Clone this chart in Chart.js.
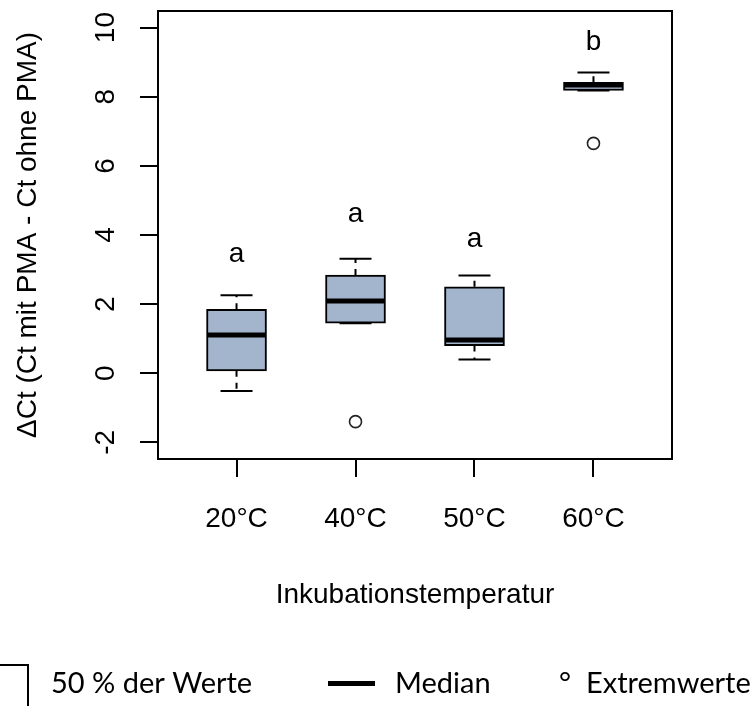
<!DOCTYPE html>
<html>
<head>
<meta charset="utf-8">
<script src="https://cdn.jsdelivr.net/npm/chart.js@4"></script>
<style>
html, body { margin: 0; padding: 0; background: #fff; }
</style>
</head>
<body>
<canvas id="myChart" width="756" height="706"></canvas>
<script>
// box statistics
var categories = ['20°C', '40°C', '50°C', '60°C'];
var whiskerLow = [-0.51, 1.45, 0.40, 8.18];
var q1 = [0.07, 1.45, 0.80, 8.18];
var medians = [1.11, 2.09, 0.96, 8.34];
var q3 = [1.85, 2.84, 2.50, 8.42];
var whiskerHigh = [2.26, 3.31, 2.83, 8.70];
var outliers = [[], [-1.40], [], [6.65]];
var letters = ['a', 'a', 'a', 'b'];
var letterY = [3.22, 4.39, 3.66, 9.35];
var yTicks = [-2, 0, 2, 4, 6, 8, 10];

var boxFill = '#a2b5cd';
var axisFont = { family: '"Liberation Sans", Arial, sans-serif', size: 28 };

// build dataset points
var whiskerPts = [], boxPts = [], medianPts = [], capPts = [], outlierPts = [];
categories.forEach(function (c, i) {
    var x = i + 1;
    whiskerPts.push({ x: x, y: q3[i] }, { x: x, y: whiskerHigh[i] }, { x: x, y: null });
    whiskerPts.push({ x: x, y: q1[i] }, { x: x, y: whiskerLow[i] }, { x: x, y: null });
    boxPts.push({ x: x, y: [q1[i], q3[i]] });
    medianPts.push({ x: x, y: medians[i] });
    capPts.push({ x: x, y: whiskerHigh[i] }, { x: x, y: whiskerLow[i] });
    outliers[i].forEach(function (v) { outlierPts.push({ x: x, y: v }); });
});

// frame, letters and the legend underneath
var extras = {
    id: 'extras',
    afterDatasetsDraw: function (chart) {
        var ctx = chart.ctx, a = chart.chartArea;
        var xs = chart.scales.x, ys = chart.scales.y;
        ctx.save();
        ctx.strokeStyle = '#000';
        ctx.lineWidth = 2;
        ctx.strokeRect(a.left, a.top, a.right - a.left, a.bottom - a.top);

        ctx.fillStyle = '#000';
        ctx.font = '28px "Liberation Sans", Arial, sans-serif';
        ctx.textAlign = 'center';
        ctx.textBaseline = 'alphabetic';
        letters.forEach(function (l, i) {
            ctx.fillText(l, xs.getPixelForValue(i + 1), ys.getPixelForValue(letterY[i]));
        });

        // legend
        ctx.textAlign = 'left';
        ctx.font = '29px Lato, "Open Sans", sans-serif';
        ctx.strokeRect(-2, 665, 30, 60);
        ctx.fillText('50 % der Werte', 51, 693);
        ctx.fillRect(328, 681, 47, 5);
        ctx.fillText('Median', 395, 693);
        ctx.fillText('°', 559, 693);
        ctx.fillText('Extremwerte', 586, 693);
        ctx.restore();
    }
};

function noPad(s) {
    s.paddingTop = 0;
    s.paddingBottom = 0;
    s.paddingLeft = 0;
    s.paddingRight = 0;
}

var ctx = document.getElementById('myChart').getContext('2d');
var chart = new Chart(ctx, {
    type: 'scatter',
    data: {
        datasets: [{
            type: 'line',
            data: whiskerPts,
            borderColor: '#000',
            borderWidth: 2,
            borderDash: [6, 6],
            pointRadius: 0,
            spanGaps: false,
            order: 5
        }, {
            type: 'bar',
            data: boxPts,
            backgroundColor: boxFill,
            borderColor: '#000',
            borderWidth: 2,
            borderSkipped: false,
            barThickness: 60,
            order: 4
        }, {
            data: medianPts,
            pointStyle: 'line',
            pointRadius: 29,
            pointBorderWidth: 5,
            pointBorderColor: '#000',
            order: 2
        }, {
            data: capPts,
            pointStyle: 'line',
            pointRadius: 16,
            pointBorderWidth: 2,
            pointBorderColor: '#000',
            order: 1
        }, {
            data: outlierPts,
            pointStyle: 'circle',
            pointRadius: 6,
            pointBorderWidth: 1.6,
            pointBorderColor: '#222',
            pointBackgroundColor: 'rgba(255,255,255,0)',
            order: 0
        }]
    },
    options: {
        responsive: false,
        animation: false,
        devicePixelRatio: 1,
        layout: { autoPadding: false, padding: { top: 11, right: 84, left: 0, bottom: 0 } },
        plugins: { legend: { display: false }, tooltip: { enabled: false } },
        scales: {
            x: {
                type: 'linear',
                min: 0.34,
                max: 4.66,
                offset: false,
                afterBuildTicks: function (s) {
                    s.ticks = categories.map(function (c, i) { return { value: i + 1 }; });
                },
                afterFit: function (s) { s.height = 247; noPad(s); },
                ticks: {
                    callback: function (v, i) { return categories[i]; },
                    font: axisFont,
                    color: '#000',
                    padding: 25,
                    minRotation: 0,
                    maxRotation: 0,
                    autoSkip: false
                },
                grid: { offset: false, drawOnChartArea: false, drawTicks: true, tickLength: 18, color: '#000', lineWidth: 2 },
                border: { display: false },
                title: {
                    display: true,
                    text: 'Inkubationstemperatur',
                    font: axisFont,
                    color: '#000',
                    padding: { top: 0, bottom: 94 }
                }
            },
            y: {
                type: 'linear',
                min: -2.48,
                max: 10.48,
                afterBuildTicks: function (s) {
                    s.ticks = yTicks.map(function (v) { return { value: v }; });
                },
                afterFit: function (s) { s.width = 158; noPad(s); },
                ticks: {
                    font: axisFont,
                    color: '#000',
                    padding: 18,
                    minRotation: 90,
                    maxRotation: 90,
                    crossAlign: 'center'
                },
                grid: { drawOnChartArea: false, drawTicks: true, tickLength: 18, color: '#000', lineWidth: 2 },
                border: { display: false },
                title: {
                    display: true,
                    text: 'ΔCt (Ct mit PMA - Ct ohne PMA)',
                    font: axisFont,
                    color: '#000',
                    padding: { top: 11, bottom: 0 }
                }
            }
        }
    },
    plugins: [extras]
});
</script>
</body>
</html>
